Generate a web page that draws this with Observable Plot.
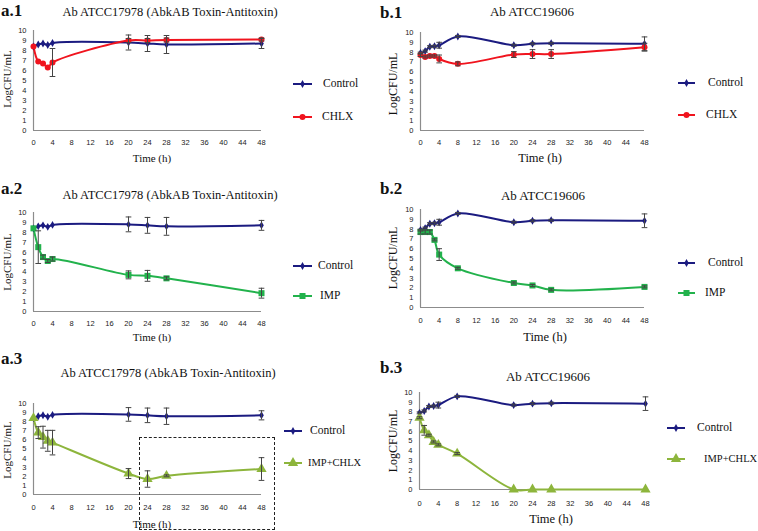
<!DOCTYPE html>
<html><head><meta charset="utf-8">
<script src="https://cdn.jsdelivr.net/npm/d3@7"></script>
<script src="https://cdn.jsdelivr.net/npm/@observablehq/plot@0.6"></script>
<style>
body{margin:0;background:#fff;}
#root{position:relative;width:758px;height:531px;overflow:hidden;font-family:"Liberation Serif","DejaVu Serif",serif;color:#111;}
.t{position:absolute;white-space:nowrap;line-height:1;font-family:"Liberation Serif","DejaVu Serif",serif;}
.pl{font-weight:bold;font-size:17px;transform:translate(0,-50%);}
.ttl{transform:translate(-50%,-50%);}
.lab{transform:translate(-50%,-50%);}
.ylab{transform:translate(-50%,-50%) rotate(-90deg);}
.leg{transform:translate(0,-50%);}
svg.sw{position:absolute;overflow:visible;}
.box{position:absolute;border:1px dashed #222;}
</style></head>
<body><div id="root"></div>
<script>
// ---- data ----
const timesA = [0, 1, 2, 3, 4, 20, 24, 28, 48];
const timesB = [0, 1, 2, 3, 4, 8, 20, 24, 28, 48];
const controlA    = [8.4, 8.6, 8.7, 8.55, 8.75, 8.8, 8.7, 8.6, 8.7];
const controlAErr = [0, 0, 0, 0, 0, 0.75, 0.8, 0.9, 0.5];
const chlxA       = [8.4, 6.9, 6.7, 6.3, 6.8, 9.0, 9.0, 9.05, 9.1];
const chlxAErr    = [0, 0, 0, 0, 1.4, 0.2, 0.2, 0.2, 0.15];
const impA        = [8.4, 6.5, 5.5, 5.1, 5.3, 3.7, 3.6, 3.35, 1.85];
const impAErr     = [0, 1.65, 0.2, 0.15, 0.2, 0.4, 0.55, 0.15, 0.5];
const impChlxA    = [8.4, 6.8, 6.3, 5.9, 5.7, 2.3, 1.7, 2.05, 2.8];
const impChlxAErr = [0, 0.65, 1.2, 1.15, 1.35, 0.55, 0.9, 0.1, 1.25];
const controlB    = [7.9, 8.1, 8.55, 8.6, 8.7, 9.6, 8.7, 8.85, 8.9, 8.85];
const controlBErr = [0.1, 0.1, 0.1, 0.1, 0.3, 0.1, 0.1, 0.1, 0.1, 0.7];
const chlxB       = [7.7, 7.5, 7.6, 7.6, 7.3, 6.8, 7.75, 7.8, 7.8, 8.5];
const chlxBErr    = [0.15, 0.1, 0.1, 0.1, 0.4, 0.2, 0.3, 0.45, 0.45, 0.4];
const impB        = [7.7, 7.7, 7.7, 6.9, 5.4, 4.0, 2.5, 2.25, 1.8, 2.1];
const impBErr     = [0.2, 0.2, 0.2, 0.1, 0.6, 0.1, 0.1, 0.1, 0.1, 0.1];
const impChlxB    = [7.4, 6.1, 5.6, 4.9, 4.6, 3.7, 0, 0, 0, 0];
const impChlxBErr = [0.1, 0.5, 0.1, 0.1, 0.1, 0.1, 0, 0, 0, 0];
const xTicks = [0, 4, 8, 12, 16, 20, 24, 28, 32, 36, 40, 44, 48];
const yTicks = [0, 1, 2, 3, 4, 5, 6, 7, 8, 9, 10];
const titleA = "Ab ATCC17978 (AbkAB Toxin-Antitoxin)";
const titleB = "Ab ATCC19606";
const yLabel = "LogCFU/mL";
const xLabel = "Time (h)";

const NAVY = "#1b1b80", RED = "#f0141e", GREEN = "#22b24c", OLIVE = "#8db53c";
const S = {
  control: {name: "Control", color: NAVY, symbol: "diamond", r: 2.4},
  chlx: {name: "CHLX", color: RED, symbol: "circle", r: 3},
  imp: {name: "IMP", color: GREEN, symbol: "square", r: 3.4},
  impchlx: {name: "IMP+CHLX", color: OLIVE, symbol: "triangle", r: 3.8}
};
const capSymbol = {draw(ctx, size) { const w = Math.sqrt(size) / 2; ctx.moveTo(-w, 0); ctx.lineTo(w, 0); }};

function rows(t, v, e) { return t.map((d, i) => ({t: d, v: v[i], lo: v[i] - e[i], hi: v[i] + e[i], e: e[i]})); }

const root = document.getElementById("root");
function txt(cls, s, x, y, size, extra) {
  const el = document.createElement("div");
  el.className = "t " + cls; el.textContent = s;
  el.style.left = x + "px"; el.style.top = y + "px";
  el.style.fontFamily = "'Liberation Serif', 'DejaVu Serif', serif";
  if (size) el.style.fontSize = size + "px";
  if (extra) Object.assign(el.style, extra);
  root.appendChild(el);
}
function legendItem(s, x1, x2, y, tx, size) {
  const ns = "http://www.w3.org/2000/svg";
  const svg = document.createElementNS(ns, "svg");
  svg.setAttribute("class", "sw"); svg.setAttribute("width", 1); svg.setAttribute("height", 1);
  svg.style.left = "0px"; svg.style.top = "0px";
  const ln = document.createElementNS(ns, "line");
  ln.setAttribute("x1", x1); ln.setAttribute("x2", x2); ln.setAttribute("y1", y); ln.setAttribute("y2", y);
  ln.setAttribute("stroke", s.color); ln.setAttribute("stroke-width", 2);
  svg.appendChild(ln);
  const symMap = {diamond: d3.symbolDiamond, circle: d3.symbolCircle, square: d3.symbolSquare, triangle: d3.symbolTriangle};
  const p = document.createElementNS(ns, "path");
  p.setAttribute("d", d3.symbol(symMap[s.symbol], Math.PI * s.r * s.r)());
  p.setAttribute("transform", `translate(${(x1 + x2) / 2},${y})`);
  p.setAttribute("fill", s.color);
  svg.appendChild(p);
  root.appendChild(svg);
  txt("leg", s.name, tx, y, size || 11.5);
}

function panel(p) {
  const mL = 34, mR = 8, mT = 8, mB = 24;
  const width = (p.x1 - p.x0) + mL + mR, height = (p.yB - p.yT) + mT + mB;
  const marks = [
    Plot.axisX({ticks: xTicks, tickSize: 0, tickPadding: p.xPad, label: null, tickFormat: d => d}),
    Plot.axisY({ticks: yTicks, tickSize: 0, tickPadding: 7, label: null}),
    Plot.ruleX([0], {stroke: "#8c8c8c", strokeWidth: 1.2}),
    Plot.ruleY([0], {stroke: "#8c8c8c", strokeWidth: 1.2})
  ];
  for (const sr of p.series) {
    marks.push(Plot.line(sr.data, {x: "t", y: "v", stroke: sr.s.color, strokeWidth: 2, curve: "catmull-rom"}));
  }
  for (const sr of p.series) {
    marks.push(Plot.dot(sr.data, {x: "t", y: "v", symbol: sr.s.symbol, r: sr.s.r, fill: sr.s.color, stroke: "none"}));
  }
  for (const sr of p.series) {
    const ed = sr.data.filter(d => d.e > 0);
    marks.push(Plot.ruleX(ed, {x: "t", y1: "lo", y2: "hi", stroke: "#444", strokeWidth: 1}));
    marks.push(Plot.dot(ed, {x: "t", y: "lo", symbol: capSymbol, r: 3.2, stroke: "#444", strokeWidth: 1, fill: "none"}));
    marks.push(Plot.dot(ed, {x: "t", y: "hi", symbol: capSymbol, r: 3.2, stroke: "#444", strokeWidth: 1, fill: "none"}));
  }
  const chart = Plot.plot({
    width, height, marginLeft: mL, marginRight: mR, marginTop: mT, marginBottom: mB,
    x: {domain: [0, 48]}, y: {domain: [0, 10]},
    style: {fontFamily: "'Liberation Sans', Arial, sans-serif", fontSize: "7.5px", color: "#222", background: "transparent", overflow: "visible"},
    marks
  });
  chart.style.position = "absolute";
  chart.style.left = (p.x0 - mL) + "px";
  chart.style.top = (p.yT - mT) + "px";
  root.appendChild(chart);
}

const cA = rows(timesA, controlA, controlAErr), cB = rows(timesB, controlB, controlBErr);

// a.1
panel({x0: 33, x1: 261, yT: 30, yB: 130, xPad: 9, series: [{s: S.control, data: cA}, {s: S.chlx, data: rows(timesA, chlxA, chlxAErr)}]});
// b.1
panel({x0: 420, x1: 644, yT: 32, yB: 130, xPad: 9, series: [{s: S.control, data: cB}, {s: S.chlx, data: rows(timesB, chlxB, chlxBErr)}]});
// a.2
panel({x0: 33, x1: 261, yT: 212, yB: 311, xPad: 9, series: [{s: S.control, data: cA}, {s: S.imp, data: rows(timesA, impA, impAErr)}]});
// b.2
panel({x0: 420, x1: 644, yT: 209, yB: 307, xPad: 10, series: [{s: S.control, data: cB}, {s: S.imp, data: rows(timesB, impB, impBErr)}]});
// a.3
panel({x0: 33, x1: 261, yT: 403, yB: 494, xPad: 10, series: [{s: S.control, data: cA}, {s: S.impchlx, data: rows(timesA, impChlxA, impChlxAErr)}]});
// b.3
panel({x0: 419, x1: 645, yT: 392, yB: 489, xPad: 11, series: [{s: S.control, data: cB}, {s: S.impchlx, data: rows(timesB, impChlxB, impChlxBErr)}]});

// panel letters
txt("pl", "a.1", 1, 10); txt("pl", "b.1", 380, 12);
txt("pl", "a.2", 1, 188); txt("pl", "b.2", 380, 188);
txt("pl", "a.3", 1, 358); txt("pl", "b.3", 380, 367);
// titles
txt("ttl", titleA, 170, 12, 12.5); txt("ttl", titleB, 532, 11, 13);
txt("ttl", titleA, 170, 195, 12.5); txt("ttl", titleB, 543, 195, 13);
txt("ttl", titleA, 168, 373, 12.5); txt("ttl", titleB, 548, 376, 13);
// x labels
txt("lab", xLabel, 152, 158, 11); txt("lab", xLabel, 540, 158, 12.5);
txt("lab", xLabel, 152, 337, 11); txt("lab", xLabel, 545, 337, 12.5);
txt("lab", xLabel, 152, 524, 11); txt("lab", xLabel, 551, 519, 12.5);
// y labels
txt("ylab", yLabel, 7, 79, 11); txt("ylab", yLabel, 393, 84, 12);
txt("ylab", yLabel, 7, 262, 11); txt("ylab", yLabel, 393, 258, 12);
txt("ylab", yLabel, 7, 450, 11); txt("ylab", yLabel, 393, 441, 12);
// legends
legendItem(S.control, 293, 312, 84, 323); legendItem(S.chlx, 293, 312, 117, 322);
legendItem(S.control, 678, 695, 83, 708); legendItem(S.chlx, 678, 695, 115, 706);
legendItem(S.control, 293, 312, 266, 318); legendItem(S.imp, 293, 312, 296, 320);
legendItem(S.control, 678, 695, 263, 708); legendItem(S.imp, 678, 695, 293, 705);
legendItem(S.control, 284, 302, 431, 310); legendItem(S.impchlx, 284, 302, 463, 308, 10.5);
legendItem(S.control, 667, 685, 428, 697); legendItem(S.impchlx, 667, 685, 459, 704, 10.5);
// dashed highlight box (a.3)
const box = document.createElement("div"); box.className = "box";
Object.assign(box.style, {left: "139px", top: "437px", width: "134px", height: "91px"});
root.appendChild(box);
</script>
</body></html>
